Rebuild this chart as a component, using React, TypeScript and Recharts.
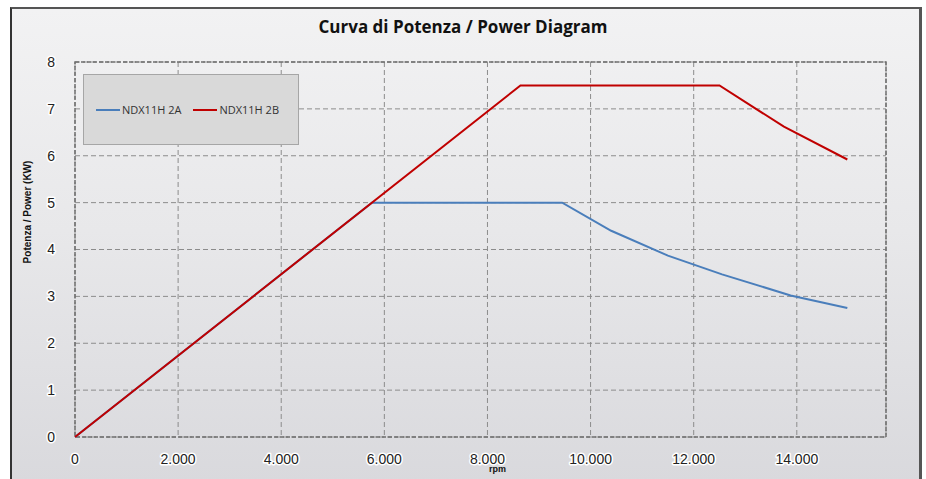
import React from 'react';
import { CartesianGrid, Line, LineChart, ReferenceArea, XAxis, YAxis } from 'recharts';

const xTicks = [0, 2000, 4000, 6000, 8000, 10000, 12000, 14000];
const yTicks = [0, 1, 2, 3, 4, 5, 6, 7, 8];

const rpm2A = [0, 5760, 9450, 10400, 11500, 12550, 13880, 14980];
const kw2A = [0, 5, 5, 4.4, 3.87, 3.47, 3.02, 2.75];

const rpm2B = [0, 8640, 12500, 13750, 14980];
const kw2B = [0, 7.5, 7.5, 6.62, 5.92];

const data2A = rpm2A.map((rpm, i) => ({ rpm, kw: kw2A[i] }));
const data2B = rpm2B.map((rpm, i) => ({ rpm, kw: kw2B[i] }));

const fmt = (v: number) => (v === 0 ? '0' : v.toLocaleString('de-DE'));

const tickStyle = {
  fill: '#222',
  fontSize: 14,
  fontFamily: 'Liberation Sans, Arial, sans-serif',
  style: { paintOrder: 'stroke', stroke: '#ffffff', strokeWidth: 3, strokeLinejoin: 'round' },
} as any;

function Legend2() {
  return (
    <div
      style={{
        position: 'absolute',
        left: 83,
        top: 74,
        width: 214,
        height: 69,
        background: '#d9d9d9',
        border: '1px solid #a6a6a6',
        display: 'flex',
        alignItems: 'center',
        fontFamily: 'Open Sans, sans-serif',
        fontSize: 11,
        color: '#333',
      }}
    >
      <span style={{ display: 'inline-block', width: 24, height: 2, background: '#4a7ebb', marginLeft: 12 }} />
      <span style={{ marginLeft: 2 }}>NDX11H 2A</span>
      <span style={{ display: 'inline-block', width: 24, height: 2, background: '#c00000', marginLeft: 12 }} />
      <span style={{ marginLeft: 2 }}>NDX11H 2B</span>
    </div>
  );
}

export default function App() {
  return (
    <div style={{ position: 'absolute', left: 0, top: 0, width: 926, height: 479, overflow: 'hidden', background: '#fff' }}>
      <div
        style={{
          position: 'absolute',
          left: 10,
          top: 7,
          width: 907,
          height: 490,
          borderLeft: '2px solid #333',
          borderTop: '2px solid #555',
          borderRight: '3px solid #555',
          background: 'linear-gradient(180deg, #f2f2f3 0%, #e8e8ea 45%, #d8d8dc 100%)',
        }}
      />
      <div
        style={{
          position: 'absolute',
          left: 0,
          top: 15,
          width: 926,
          textAlign: 'center',
          fontFamily: 'Open Sans, sans-serif',
          fontWeight: 700,
          fontSize: 17,
          color: '#111',
        }}
      >
        Curva di Potenza / Power Diagram
      </div>
      <div style={{ position: 'absolute', left: 0, top: 0 }}>
        <LineChart width={926} height={479} margin={{ top: 62, right: 40, bottom: 0, left: 0 }}>
          <CartesianGrid stroke="#8c8c8c" strokeDasharray="5 3" />
          <XAxis
            type="number"
            dataKey="rpm"
            domain={[0, 15730]}
            ticks={xTicks}
            tickFormatter={fmt}
            allowDuplicatedCategory={false}
            axisLine={false}
            tickLine={false}
            tick={tickStyle}
            tickMargin={11}
            height={42}
          />
          <YAxis
            type="number"
            domain={[0, 8]}
            ticks={yTicks}
            axisLine={false}
            tickLine={false}
            tick={tickStyle}
            tickMargin={14}
            width={75}
          />
          <ReferenceArea x1={0} x2={15730} y1={0} y2={8} fill="none" stroke="#6e6e6e" strokeWidth={1.5} strokeDasharray="4 2" />
          <Line data={data2A} dataKey="kw" type="linear" stroke="#4a7ebb" strokeWidth={2} dot={false} isAnimationActive={false} />
          <Line data={data2B} dataKey="kw" type="linear" stroke="#c00000" strokeWidth={2} dot={false} isAnimationActive={false} />
        </LineChart>
      </div>
      <div
        style={{
          position: 'absolute',
          left: 27,
          top: 212,
          transform: 'translate(-50%, -50%) rotate(-90deg)',
          whiteSpace: 'nowrap',
          fontFamily: 'Liberation Sans, Arial, sans-serif',
          fontWeight: 700,
          fontSize: 10,
          color: '#111',
        }}
      >
        Potenza / Power (KW)
      </div>
      <div
        style={{
          position: 'absolute',
          left: 489,
          top: 464,
          fontFamily: 'Liberation Sans, Arial, sans-serif',
          fontWeight: 700,
          fontSize: 9,
          lineHeight: '10px',
          color: '#111',
        }}
      >
        rpm
      </div>
      <Legend2 />
    </div>
  );
}
